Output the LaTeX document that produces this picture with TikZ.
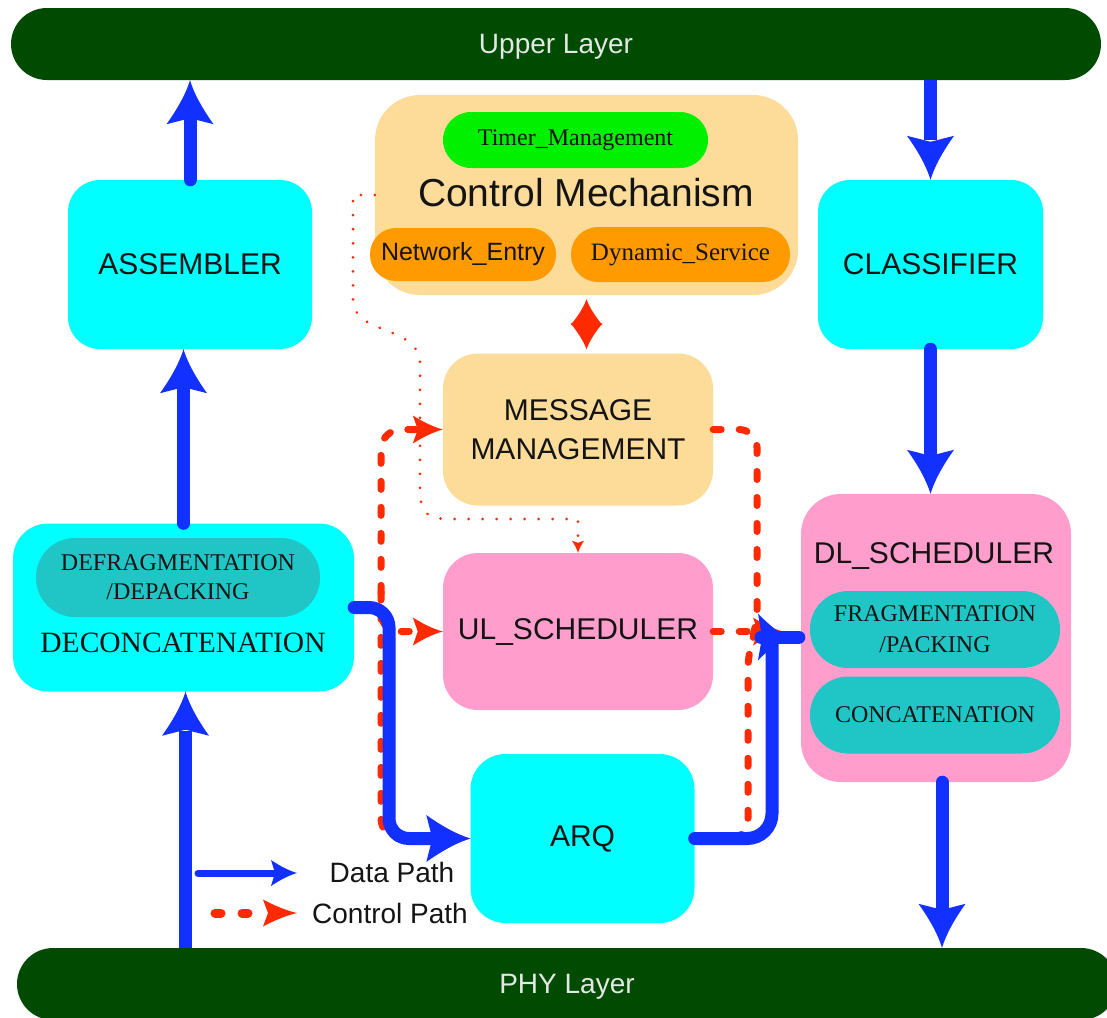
\documentclass[tikz,border=0pt]{standalone}
\usepackage{fontspec}
\setmainfont{Liberation Serif}
\setsansfont{Liberation Sans}
\usetikzlibrary{arrows.meta}

% Arrow tip with concave flanks: a sharp spike widening into two barbs,
% the back edge notched by the inset
\pgfdeclarearrow{
  name = Flare,
  parameters = {\the\pgfarrowlength,\the\pgfarrowwidth,\the\pgfarrowinset},
  setup code = {
    \pgfarrowssettipend{0pt}
    \pgfarrowssetlineend{-0.9\pgfarrowlength}
    \pgfarrowssetvisualbackend{-\pgfarrowlength}
    \pgfarrowssetbackend{-\pgfarrowlength}
    \pgfarrowssavethe\pgfarrowlength
    \pgfarrowssavethe\pgfarrowwidth
    \pgfarrowssavethe\pgfarrowinset
  },
  drawing code = {
    \pgfpathmoveto{\pgfqpoint{0pt}{0pt}}
    \pgfpathcurveto{\pgfqpoint{-0.35\pgfarrowlength}{0.1\pgfarrowwidth}}{\pgfqpoint{-0.7\pgfarrowlength}{0.3\pgfarrowwidth}}{\pgfqpoint{-\pgfarrowlength}{0.5\pgfarrowwidth}}
    \pgfpathlineto{\pgfpoint{-\pgfarrowlength+\pgfarrowinset}{0pt}}
    \pgfpathlineto{\pgfqpoint{-\pgfarrowlength}{-0.5\pgfarrowwidth}}
    \pgfpathcurveto{\pgfqpoint{-0.7\pgfarrowlength}{-0.3\pgfarrowwidth}}{\pgfqpoint{-0.35\pgfarrowlength}{-0.1\pgfarrowwidth}}{\pgfqpoint{0pt}{0pt}}
    \pgfpathclose
    \pgfusepathqfill
  },
  defaults = {length = 12pt, width = 10pt, inset = 2pt}
}

\definecolor{layergreen}{RGB}{0,74,2}
\definecolor{boxcyan}{RGB}{0,255,255}
\definecolor{ctrlbg}{RGB}{253,220,154}
\definecolor{timergreen}{RGB}{0,240,0}
\definecolor{suborange}{RGB}{255,155,0}
\definecolor{schedpink}{RGB}{255,158,204}
\definecolor{subteal}{RGB}{32,198,198}
\definecolor{datablue}{RGB}{18,48,255}
\definecolor{ctrlred}{RGB}{255,42,0}
\definecolor{inktext}{RGB}{20,20,20}
\definecolor{layertext}{RGB}{226,232,226}

\begin{document}
\begin{tikzpicture}[x=1pt,y=-1pt,
  blk/.style={rectangle, inner sep=0pt, text=inktext},
  sanslbl/.style={font=\sffamily\fontsize{30}{39}\selectfont},
  seriflbl/.style={font=\rmfamily\fontsize{24}{30}\selectfont},
  layer/.style={blk, fill=layergreen, rounded corners=36pt, text=layertext, text depth=0pt,
    font=\sffamily\fontsize{28}{32}\selectfont},
  datapath/.style={draw=datablue, line width=13pt, line cap=round,
    -{Flare[length=44pt,width=47pt,inset=6pt]}},
  dataline/.style={draw=datablue, line width=13pt, line cap=round},
  ctrlpath/.style={draw=ctrlred, line width=7pt, line cap=round,
    dash pattern=on 8pt off 18pt},
  ctrltip/.style={-{Flare[length=30pt,width=28pt,inset=5pt]}},
  dotpath/.style={draw=ctrlred, line width=3pt, line cap=round,
    dash pattern=on 0.01pt off 14pt}
]
\fill[white] (0,0) rectangle (1107,1017);
\useasboundingbox (0,0) rectangle (1107,1017);

% layer bars
\node[layer, minimum width=1090pt, minimum height=72pt] (up) at (556,44) {Upper Layer};
\node[layer, minimum width=1100pt, minimum height=72pt] (phy) at (567,984) {PHY Layer};

% side blocks
\node[blk, sanslbl, fill=boxcyan, rounded corners=32pt, minimum width=244pt, minimum height=169pt] (asm) at (190,264.5) {ASSEMBLER};
\node[blk, sanslbl, fill=boxcyan, rounded corners=32pt, minimum width=225pt, minimum height=169pt] (cls) at (930.5,264.5) {CLASSIFIER};

% control mechanism
\node[blk, fill=ctrlbg, rounded corners=45pt, minimum width=423pt, minimum height=200pt] (cm) at (586.5,195) {};
\node[blk, seriflbl, fill=timergreen, rounded corners=28pt, minimum width=265pt, minimum height=56pt] (tm) at (575.5,140) {Timer\_Management};
\node[blk, font=\sffamily\fontsize{39}{44}\selectfont] (cmt) at (586,193) {Control Mechanism};
\node[blk, font=\sffamily\fontsize{25}{30}\selectfont, fill=suborange, rounded corners=26pt, minimum width=186pt, minimum height=53pt] (ne) at (463,254.5) {Network\_Entry};
\node[blk, font=\rmfamily\fontsize{25}{30}\selectfont, fill=suborange, rounded corners=27pt, minimum width=219pt, minimum height=55pt] (ds) at (680.5,254.5) {Dynamic\_Service};

% central blocks
\node[blk, sanslbl, align=center, fill=ctrlbg, rounded corners=35pt, minimum width=270pt, minimum height=152pt] (mm) at (578,429.5) {MESSAGE\\MANAGEMENT};
\node[blk, sanslbl, fill=schedpink, rounded corners=35pt, minimum width=270pt, minimum height=157pt] (ul) at (578,631.5) {UL\_SCHEDULER};
\node[blk, sanslbl, fill=boxcyan, rounded corners=35pt, minimum width=224pt, minimum height=169pt] (arq) at (582.5,838.5) {ARQ};

% downlink scheduler
\node[blk, fill=schedpink, rounded corners=40pt, minimum width=270pt, minimum height=288pt] (dl) at (936,638) {};
\node[blk, sanslbl] (dlt) at (934,556) {DL\_SCHEDULER};
\node[blk, align=center, font=\rmfamily\fontsize{24}{31}\selectfont, fill=subteal, rounded corners=38pt, minimum width=250pt, minimum height=77pt] (frag) at (935,629.5) {FRAGMENTATION\\/PACKING};
\node[blk, seriflbl, fill=subteal, rounded corners=38pt, minimum width=250pt, minimum height=77pt] (conc) at (935,715) {CONCATENATION};

% deconcatenation
\node[blk, fill=boxcyan, rounded corners=35pt, minimum width=341pt, minimum height=168pt] (dec) at (183.5,607.5) {};
\node[blk, align=center, font=\rmfamily\fontsize{24}{29}\selectfont, fill=subteal, rounded corners=39pt, minimum width=284pt, minimum height=79pt] (defr) at (178,577.5) {DEFRAGMENTATION\\/DEPACKING};
\node[blk, font=\rmfamily\fontsize{29.5}{34}\selectfont] (dect) at (183,643) {DECONCATENATION};

% control paths
\draw[ctrlpath, {Flare[length=30pt,width=28pt,inset=5pt]}-{Flare[length=30pt,width=28pt,inset=5pt]}, rounded corners=20pt]
  (mm.west) -- (381,429.5) -- (381,838.5) -- (arq.west);
\coordinate (ulb) at (381,592);
\draw[ctrlpath, ctrltip, rounded corners=18pt] (ulb) |- (ul.west);
\coordinate (rj) at (783,631.5);
\draw[ctrlpath, ctrltip] (ul.east) -- (rj);
\draw[ctrlpath, rounded corners=18pt] (mm.east) -- (757,429.5) -- (757,628) -- (748,650) -- (748,838.5) -- (arq.east);

% timer signalling to the uplink scheduler
\draw[dotpath, -{Flare[length=12pt,width=12pt,inset=2pt]}]
  (cm.west) -- (353,195) -- (353,300) .. controls (353,335) and (418,325) .. (420,362)
  -- (420,490) .. controls (420,515) and (430,519) .. (450,519) -- (578,519) -- (ul.north);

% control mechanism <-> message management
\draw[draw=ctrlred, line width=2pt, shorten <=4pt, shorten >=4pt,
  {Flare[length=26pt,width=32pt,inset=0pt]}-{Flare[length=26pt,width=32pt,inset=0pt]}]
  (cm.south) -- (cm.south |- mm.north);

% data paths
\draw[datapath] (asm.north) -- (asm.north |- up.south);
\draw[datapath] (dec.north) -- (dec.north |- asm.south);
\draw[datapath, line cap=butt] ([xshift=2pt]dec.south |- phy.north) -- ([xshift=2pt]dec.south);
\draw[datapath, line cap=butt] (cls.north |- up.south) -- (cls.north);
\draw[datapath] (cls.south) -- (cls.south |- dl.north);
\draw[datapath] ([xshift=6pt]dl.south) -- ([xshift=6pt]dl.south |- phy.north);
\draw[datapath, rounded corners=20pt] (dec.east) -- (389,607.5) -- (389,838.5) -- (arq.west);

\coordinate (dj) at (772,637);
\draw[dataline, rounded corners=25pt] (arq.east) -| (dj);
\draw[dataline] (dj) -- ([xshift=-11pt]frag.west |- dj);
\draw[datapath, -{Flare[length=30pt,width=47pt,inset=4pt]}] (dj) -- ([xshift=16pt]dj);

% legend
\coordinate (lgd1) at (198,873);
\coordinate (lgd2) at (297,873);
\draw[draw=datablue, line width=7pt, line cap=round, -{Flare[length=26pt,width=26pt,inset=4pt]}] (lgd1) -- (lgd2);
\node[blk, font=\sffamily\fontsize{28}{32}\selectfont] (lgdt) at (392,872) {Data Path};
\coordinate (lgc1) at (215,913);
\coordinate (lgc2) at (297,913);
\draw[draw=ctrlred, line width=9pt, line cap=round, dash pattern=on 6pt off 21pt,
  -{Flare[length=34pt,width=27pt,inset=5pt]}] (lgc1) -- (lgc2);
\node[blk, font=\sffamily\fontsize{28}{32}\selectfont] (lgct) at (390,913) {Control Path};
\end{tikzpicture}
\end{document}
